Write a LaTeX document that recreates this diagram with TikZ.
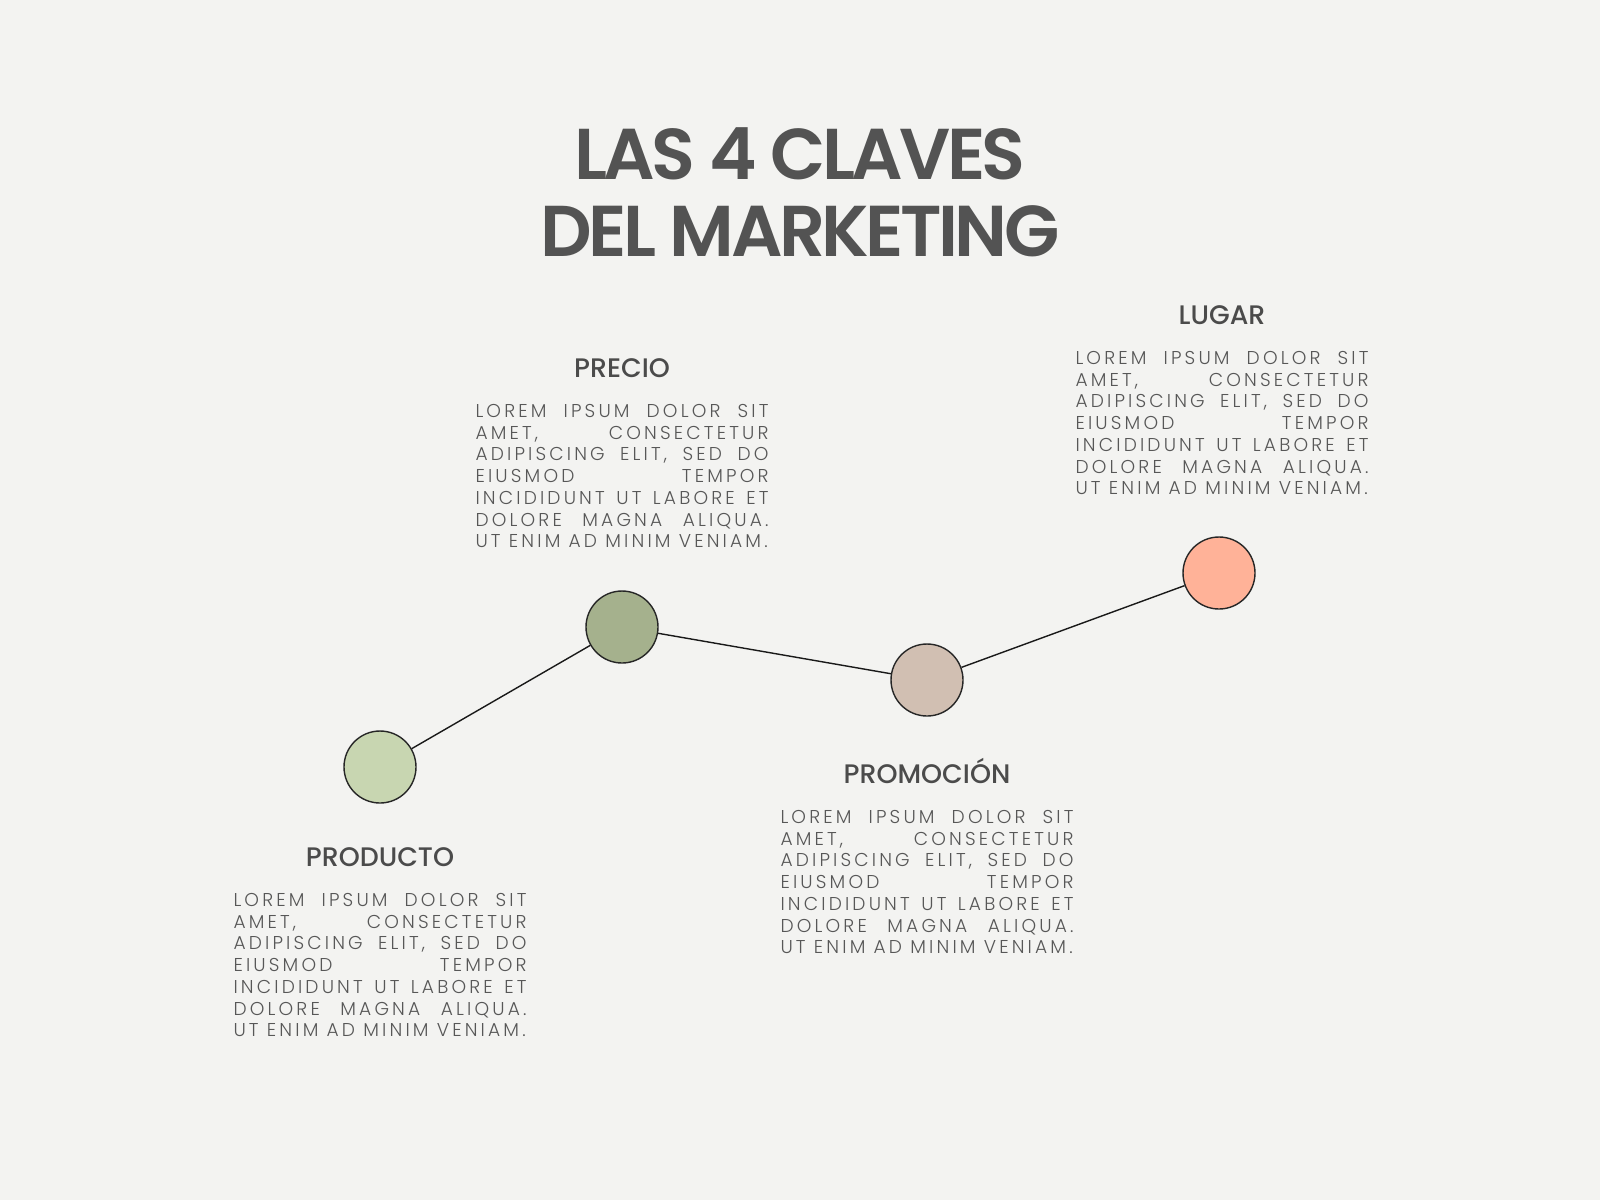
\documentclass[tikz,border=0pt]{standalone}
\usepackage{fontspec}
\usepackage{xcolor}
\usetikzlibrary{positioning}

\newfontfamily\titlefont{Poppins SemiBold}[LetterSpace=-5]
\newfontfamily\headfont{Poppins Medium}
\newfontfamily\bodyfont{Poppins Light}[LetterSpace=17]

\definecolor{paper}{HTML}{F3F3F1}
\definecolor{ink}{HTML}{535353}
\definecolor{headgray}{HTML}{4B4B4B}
\definecolor{bodygray}{HTML}{575757}
\definecolor{sage}{HTML}{C8D6B1}
\definecolor{olive}{HTML}{A5B18D}
\definecolor{taupe}{HTML}{D1BFB2}
\definecolor{peach}{HTML}{FFB298}

\newlength\bodyw
\setlength\bodyw{146.5pt}
\newcommand\jline[1]{\makebox[\bodyw][s]{\spaceskip=0pt\xspaceskip=0pt #1}}
\newcommand\lorem{\noindent\jline{LOREM IPSUM DOLOR SIT}\\
  \jline{AMET, CONSECTETUR}\\
  \jline{ADIPISCING ELIT, SED DO}\\
  \jline{EIUSMOD TEMPOR}\\
  \jline{INCIDIDUNT UT LABORE ET}\\
  \jline{DOLORE MAGNA ALIQUA.}\\
  \makebox[\bodyw][l]{\spaceskip=0pt\xspaceskip=0pt UT ENIM AD MINIM VENIAM.}}

\begin{document}
\begin{tikzpicture}[x=0.5pt, y=-0.5pt,
    titletext/.style={font=\titlefont\fontsize{36pt}{38pt}\selectfont, text=ink, inner sep=0pt, text height=25pt, text depth=0pt},
    dotnode/.style={circle, draw=black!85, line width=0.7pt, minimum size=36pt, inner sep=0pt},
    connector/.style={draw=black!90, line width=0.7pt},
    headtext/.style={font=\headfont\fontsize{13.4pt}{14pt}\selectfont, text=headgray, inner sep=0pt, text height=9.5pt, text depth=0pt},
    bodytext/.style={font=\bodyfont\fontsize{9.3pt}{10.85pt}\selectfont, text=bodygray, inner sep=0pt, text width=\bodyw, align=justify}]
    \fill[paper] (0,0) rectangle (1600,1200);
    \node[titletext] (title1) at (800,154) {LAS 4 CLAVES};
    \node[titletext] (title2) at (800,231) {DEL MARKETING};
    \node[dotnode, fill=sage] (producto) at (380,767) {};
    \node[dotnode, fill=olive] (precio) at (622,627) {};
    \node[dotnode, fill=taupe] (promocion) at (927,680) {};
    \node[dotnode, fill=peach] (lugar) at (1219,573) {};
    \draw[connector] (producto) -- (precio) -- (promocion) -- (lugar);
    \node[headtext, below=21.5pt of producto] (producto-head) {PRODUCTO};
    \node[bodytext, below=13.25pt of producto-head] (producto-body) {\lorem};
    \node[bodytext, above=21pt of precio] (precio-body) {\lorem};
    \node[headtext, above=13.25pt of precio-body] (precio-head) {PRECIO};
    \node[headtext, below=23.5pt of promocion] (promocion-head) {PROMOCIÓN};
    \node[bodytext, below=13.25pt of promocion-head] (promocion-body) {\lorem};
    \node[bodytext, above=20.5pt of lugar, xshift=1.5pt] (lugar-body) {\lorem};
    \node[headtext, above=13.25pt of lugar-body] (lugar-head) {LUGAR};
\end{tikzpicture}
\end{document}
